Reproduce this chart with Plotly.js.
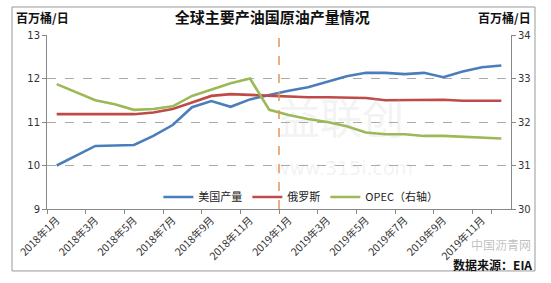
<!DOCTYPE html>
<html>
<head>
<meta charset="utf-8">
<script src="https://cdn.plot.ly/plotly-3.0.1.min.js"></script>
<style>html,body{margin:0;padding:0;background:#fff;}#chart{width:551px;height:283px;}</style>
</head>
<body>
<div id="chart"></div>
<script>
const months = ['2018年1月','2018年2月','2018年3月','2018年4月','2018年5月','2018年6月','2018年7月','2018年8月','2018年9月','2018年10月','2018年11月','2018年12月',
                '2019年1月','2019年2月','2019年3月','2019年4月','2019年5月','2019年6月','2019年7月','2019年8月','2019年9月','2019年10月','2019年11月','2019年12月'];
const tickLabels = months.filter((m, i) => i % 2 === 0);
const usOutput = [10.00,10.23,10.45,10.46,10.47,10.68,10.93,11.34,11.48,11.35,11.52,11.62,11.72,11.80,11.93,12.05,12.13,12.13,12.10,12.13,12.03,12.16,12.26,12.30];
const russiaOutput = [11.18,11.18,11.18,11.18,11.18,11.22,11.30,11.45,11.60,11.64,11.62,11.60,11.58,11.57,11.57,11.56,11.55,11.50,11.50,11.50,11.51,11.49,11.49,11.49];
const opecOutput = [32.87,32.68,32.50,32.41,32.28,32.30,32.36,32.60,32.74,32.89,33.00,32.28,32.16,32.07,32.00,31.90,31.76,31.72,31.72,31.68,31.68,31.66,31.64,31.62];
const seriesNames = ['美国产量','俄罗斯','OPEC（右轴）'];
const markerMonth = '2019年1月';

const cjk = '"Noto Sans CJK SC", "DejaVu Sans", sans-serif';
const num = '"DejaVu Sans", sans-serif';

const traces = [
  {x: months, y: usOutput, name: seriesNames[0], type: 'scatter', mode: 'lines', line: {color: '#4A7EBB', width: 2.6}},
  {x: months, y: russiaOutput, name: seriesNames[1], type: 'scatter', mode: 'lines', line: {color: '#BE4B48', width: 2.6}},
  {x: months, y: opecOutput, name: seriesNames[2], type: 'scatter', mode: 'lines', yaxis: 'y2', line: {color: '#9BB955', width: 2.6}}
];

const markerIdx = months.indexOf(markerMonth);

const layout = {
  width: 551, height: 283,
  margin: {l: 47, r: 40, t: 35, b: 74},
  paper_bgcolor: '#fff', plot_bgcolor: '#fff',
  showlegend: true,
  title: {text: '全球主要产油国原油产量情况', font: {family: cjk, size: 15, color: '#111', weight: 700},
          xref: 'container', x: 0.494, xanchor: 'center', yref: 'container', y: 0.936, yanchor: 'middle'},
  xaxis: {type: 'category', categoryarray: months, range: [-0.5, months.length - 0.5],
          tickmode: 'array', tickvals: tickLabels, ticktext: tickLabels, tickson: 'boundaries',
          tickangle: -45, ticks: 'outside', ticklen: 4, tickcolor: '#888',
          showline: true, linecolor: '#888', linewidth: 1, showgrid: false, zeroline: false,
          tickfont: {family: cjk, size: 10.5, color: '#333'}},
  yaxis: {range: [9, 13], dtick: 1, ticks: 'outside', ticklen: 4, tickcolor: '#888',
          showline: true, linecolor: '#888', linewidth: 1, zeroline: false,
          showgrid: true, gridcolor: '#aaa', griddash: 'dash', gridwidth: 1,
          tickfont: {family: num, size: 10, color: '#333'}},
  yaxis2: {range: [30, 34], dtick: 1, overlaying: 'y', side: 'right', ticks: 'outside', ticklen: 4, tickcolor: '#888',
           showline: true, linecolor: '#888', linewidth: 1, zeroline: false, showgrid: false,
           tickfont: {family: num, size: 10, color: '#333'}},
  legend: {orientation: 'h', x: 0.24, xanchor: 'left', y: 0.069, yanchor: 'middle',
           bgcolor: 'rgba(0,0,0,0)', font: {family: cjk, size: 11, color: '#222'}, itemwidth: 30, traceorder: 'normal'},
  shapes: [
    {type: 'line', xref: 'x', yref: 'paper', x0: markerIdx - 0.5, x1: markerIdx - 0.5, y0: 0, y1: 1,
     line: {color: '#E8935A', width: 1.5, dash: 'dash'}},
    {type: 'rect', xref: 'paper', yref: 'paper', x0: -0.0754, x1: 1.0517, y0: -0.356, y1: 1.161,
     line: {color: '#999', width: 1}, fillcolor: 'rgba(0,0,0,0)', layer: 'below'}
  ],
  annotations: [
    {text: '益联创', xref: 'paper', yref: 'paper', x: 0.634, y: 0.54, showarrow: false,
     font: {family: cjk, size: 42, color: 'rgba(180,180,180,0.18)'}},
    {text: 'www.315i.com', xref: 'paper', yref: 'paper', x: 0.64, y: 0.16, showarrow: false,
     font: {family: num, size: 19, color: 'rgba(180,180,180,0.18)'}},
    {text: '百万桶/日', xref: 'paper', yref: 'paper', x: -0.071, y: 1.098, xanchor: 'left', yanchor: 'middle', showarrow: false,
     font: {family: cjk, size: 12, color: '#111', weight: 700}},
    {text: '百万桶/日', xref: 'paper', yref: 'paper', x: 1.047, y: 1.098, xanchor: 'right', yanchor: 'middle', showarrow: false,
     font: {family: cjk, size: 12, color: '#111', weight: 700}},
    {text: '中国沥青网', xref: 'paper', yref: 'paper', x: 1.047, y: -0.205, xanchor: 'right', yanchor: 'middle', showarrow: false,
     font: {family: cjk, size: 12, color: 'rgba(150,150,150,0.6)'}},
    {text: '数据来源：EIA', xref: 'paper', yref: 'paper', x: 1.05, y: -0.32, xanchor: 'right', yanchor: 'middle', showarrow: false,
     font: {family: cjk, size: 12, color: '#111', weight: 700}}
  ]
};

Plotly.newPlot('chart', traces, layout, {displayModeBar: false, staticPlot: true});
</script>
</body>
</html>
